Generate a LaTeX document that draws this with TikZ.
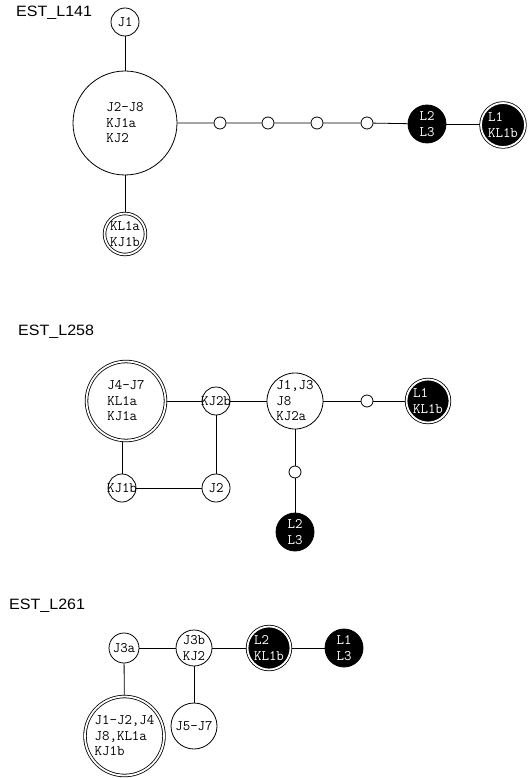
\documentclass[tikz,border=0pt]{standalone}
\usepackage{fontspec}
\newfontfamily\titlefont[FakeStretch=1.07]{Liberation Sans}
\usetikzlibrary{backgrounds}
\begin{document}
\begin{tikzpicture}[x=1pt,y=-1pt,
  labtxt/.style={font=\ttfamily\fontsize{14.5}{15.5}\selectfont, align=left, inner sep=0pt, text=black},
  wlabtxt/.style={labtxt, text=white},
  hap/.style={circle, draw, fill=white, line width=0.8pt, inner sep=0pt, minimum size=#1},
  dhap/.style={hap=#1, double=white, double distance=1.8pt},
  bhap/.style={hap=#1, fill=black},
  dbhap/.style={bhap=#1, double=white, double distance=1.8pt},
  lab/.style={label={[labtxt]center:#1}},
  wlab/.style={label={[wlabtxt]center:#1}},
  med/.style={circle, draw, fill=white, line width=0.8pt, minimum size=12pt, inner sep=0pt},
  link/.style={line width=0.8pt},
  ttl/.style={font=\titlefont\fontsize{15}{17}\selectfont, inner sep=0pt, anchor=base west}
]
\path[use as bounding box] (0,0) rectangle (527,778);

% ---------- EST_L141 ----------
\node[ttl] (t1) at (16,17) {EST\_L141};
\node[hap=28pt, lab={J1}] (a1) at (125,22) {};
\node[hap=104pt, lab={J2-J8\\KJ1a\\KJ2}] (a2) at (125,123) {};
\node[dhap=41pt, lab={KL1a\\KJ1b}] (a3) at (125,234) {};
\node[med] (s1) at (220,123) {};
\node[med] (s2) at (268,123) {};
\node[med] (s3) at (317,123) {};
\node[med] (s4) at (367,123) {};
\node[bhap=38pt, wlab={L2\\L3}] (a4) at (427,124) {};
\node[dbhap=44pt, wlab={L1\\KL1b}] (a5) at (503,125) {};
\begin{scope}[on background layer]
\draw[link] (a1) -- (a2);
\draw[link] (a2) -- (a3);
\draw[link] (a2) -- (s1) -- (s2) -- (s3) -- (s4) -- (a4);
\draw[link] (a4) -- (a4 -| a5);
\end{scope}

% ---------- EST_L258 ----------
\node[ttl] (t2) at (18,335) {EST\_L258};
\node[dhap=79pt, lab={J4-J7\\KL1a\\KJ1a}] (b1) at (126,401) {};
\node[hap=28pt, lab={KJ2b}] (b2) at (216,401) {};
\node[hap=56pt, lab={J1,J3\\J8\\KJ2a}] (b3) at (295,401) {};
\node[med] (bs1) at (367,401) {};
\node[dbhap=43pt, wlab={L1\\KL1b}] (b4) at (428,401) {};
\node[med] (bs2) at (295,472) {};
\node[bhap=38pt, wlab={L2\\L3}] (b5) at (295,532) {};
\node[hap=28pt, lab={KJ1b}] (b6) at (122,488) {};
\node[hap=28pt, lab={J2}] (b7) at (216,488) {};
\begin{scope}[on background layer]
\draw[link] (b1) -- (b2) -- (b3) -- (bs1) -- (b4);
\draw[link] (b3) -- (bs2) -- (b5);
\draw[link] (b6) -- (b6 |- b1);
\draw[link] (b2) -- (b7);
\draw[link] (b6) -- (b7);
\end{scope}

% ---------- EST_L261 ----------
\node[ttl] (t3) at (9,609) {EST\_L261};
\node[hap=30pt, lab={J3a}] (c1) at (124,648) {};
\node[hap=36pt, lab={J3b\\KJ2}] (c2) at (194,648) {};
\node[dbhap=43pt, wlab={L2\\KL1b}] (c3) at (269,648) {};
\node[bhap=38pt, wlab={L1\\L3}] (c4) at (344,648) {};
\node[dhap=79pt, lab={J1-J2,J4\\J8,KL1a\\KJ1b}] (c5) at (124.5,736) {};
\node[hap=46pt, lab={J5-J7}] (c6) at (194,726) {};
\begin{scope}[on background layer]
\draw[link] (c1) -- (c2) -- (c3) -- (c4);
\draw[link] (c1) -- (c5);
\draw[link] (c2) -- (c6);
\end{scope}
\end{tikzpicture}
\end{document}
